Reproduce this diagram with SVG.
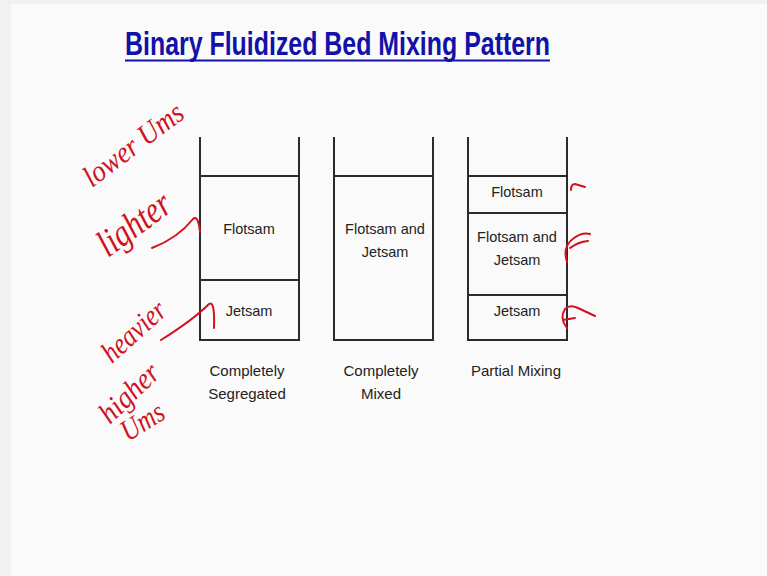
<svg xmlns="http://www.w3.org/2000/svg" width="767" height="576" viewBox="0 0 767 576">
<style>
.bg{fill:#fafafa}
.wall{stroke:#2b2b2b;stroke-width:2;fill:none;stroke-linecap:square}
.lbl{font-family:"Liberation Sans",Arial,sans-serif;font-size:14.5px;fill:#222;text-anchor:middle}
.cap{font-family:"Liberation Sans",Arial,sans-serif;font-size:15px;fill:#222;text-anchor:middle}
.ink{font-family:"Liberation Serif","DejaVu Serif",serif;font-style:italic;fill:#d0121e}
.inkp{stroke:#d0121e;stroke-width:2;fill:none;stroke-linecap:round;stroke-linejoin:round}
</style>
<rect width="767" height="576" fill="#f1f1f1"/>
<rect x="11" y="4" width="756" height="572" class="bg"/>
<g id="title">
<text x="125" y="55" font-family="'Liberation Sans',Arial,sans-serif" font-weight="bold" font-size="33" fill="#1212a8" textLength="425" lengthAdjust="spacingAndGlyphs">Binary Fluidized Bed Mixing Pattern</text>
<line x1="125" y1="60.5" x2="550" y2="60.5" stroke="#1212a8" stroke-width="2"/>
</g>
<g id="col-segregated">
<path class="wall" d="M200,138 V340 H299 V138 M200,176 H299 M200,280 H299"/>
<text class="lbl" x="249" y="234">Flotsam</text>
<text class="lbl" x="249" y="316">Jetsam</text>
<text class="cap" x="247" y="376">Completely</text>
<text class="cap" x="247" y="399">Segregated</text>
</g>
<g id="col-mixed">
<path class="wall" d="M334,138 V340 H433 V138 M334,176 H433"/>
<text class="lbl" x="385" y="234">Flotsam and</text>
<text class="lbl" x="385" y="257">Jetsam</text>
<text class="cap" x="381" y="376">Completely</text>
<text class="cap" x="381" y="399">Mixed</text>
</g>
<g id="col-partial">
<path class="wall" d="M468,138 V340 H567 V138 M468,176 H567 M468,213 H567 M468,295 H567"/>
<text class="lbl" x="517" y="197">Flotsam</text>
<text class="lbl" x="517" y="242">Flotsam and</text>
<text class="lbl" x="517" y="265">Jetsam</text>
<text class="lbl" x="517" y="316">Jetsam</text>
<text class="cap" x="516" y="376">Partial Mixing</text>
</g>
<g id="annotations">
<text class="ink" font-size="30" transform="translate(92,188) rotate(-37)" textLength="118" lengthAdjust="spacingAndGlyphs">lower Ums</text>
<text class="ink" font-size="38" transform="translate(108,258) rotate(-36)" textLength="82" lengthAdjust="spacingAndGlyphs">lighter</text>
<text class="ink" font-size="30" transform="translate(112,364) rotate(-42)" textLength="76" lengthAdjust="spacingAndGlyphs">heavier</text>
<text class="ink" font-size="30" transform="translate(110,425) rotate(-44)" textLength="72" lengthAdjust="spacingAndGlyphs">higher</text>
<text class="ink" font-size="30" transform="translate(128,442) rotate(-32)" textLength="46" lengthAdjust="spacingAndGlyphs">Ums</text>
</g>
<g id="connectors">
<path class="inkp" d="M152,248 Q178,238 193,219 Q198,214 200,232"/>
<path class="inkp" d="M161,340 Q193,320 209,304 Q215,300 214,328"/>
<path class="inkp" d="M571,190 Q571,184 575,184 L585,187"/>
<path class="inkp" d="M567,262 Q562,246 574,238 Q582,232 590,234 M570,248 Q578,242 588,241"/>
<path class="inkp" d="M567,328 Q559,318 565,309 Q570,304 578,308 L595,316 M563,320 L575,318"/>
</g>
</svg>
